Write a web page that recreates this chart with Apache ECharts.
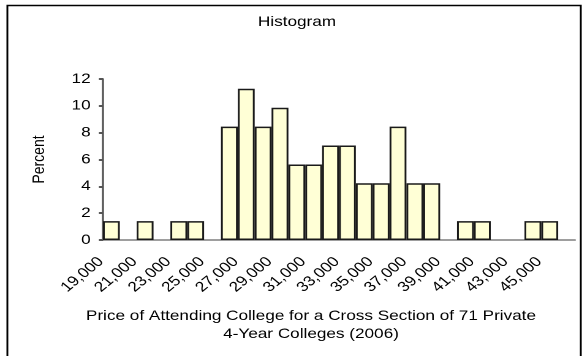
<!DOCTYPE html>
<html>
<head>
<meta charset="utf-8">
<script src="https://cdn.jsdelivr.net/npm/echarts@6/dist/echarts.min.js"></script>
<style>
  html, body { margin: 0; padding: 0; background: #fff; overflow: hidden; }
  /* The chart is laid out at a narrower width and widened horizontally,
     giving the broad, stretched lettering of the printed figure. */
  #chart { width: 475px; height: 356px; transform: scaleX(1.2253); transform-origin: 0 0; }
</style>
</head>
<body>
<div id="chart"></div>
<script>
// Lower edge of each $1,000 price bin (the last bin is empty)
var binStarts = [19000, 20000, 21000, 22000, 23000, 24000, 25000, 26000, 27000,
  28000, 29000, 30000, 31000, 32000, 33000, 34000, 35000, 36000, 37000, 38000,
  39000, 40000, 41000, 42000, 43000, 44000, 45000, 46000];

// Percent of the 71 colleges falling in each bin (null = no colleges)
var percents = [1.41, null, 1.41, null, 1.41, 1.41, null, 8.45, 11.27,
  8.45, 9.86, 5.63, 5.63, 7.04, 7.04, 4.23, 4.23, 8.45, 4.23, 4.23,
  null, 1.41, 1.41, null, null, 1.41, 1.41, null];

var yTicks = { min: 0, max: 12, step: 2 };

var chartTitle = 'Histogram';
var yTitle = 'Percent';
var xTitleLines = ['Price of Attending College for a Cross Section of 71 Private',
  '4-Year Colleges (2006)'];

var FONT = '"Liberation Sans", Arial, sans-serif';

function thousands(v) {
  return Number(v).toLocaleString('en-US');
}

var chart = echarts.init(document.getElementById('chart'), null,
  { renderer: 'canvas', devicePixelRatio: 2 });

chart.setOption({
  animation: false,
  backgroundColor: '#ffffff',
  textStyle: { fontFamily: FONT },
  grid: { left: 84, right: 5.7, top: 79, bottom: 116, containLabel: false },
  xAxis: {
    type: 'category',
    data: binStarts.map(String),
    boundaryGap: true,
    axisLine: { show: true, lineStyle: { color: '#7f7f7f', width: 1.5 } },
    axisTick: { show: false },
    axisLabel: {
      interval: 1,
      rotate: 45,
      margin: 11,
      padding: [0, 12, 0, 0],
      color: '#000',
      fontSize: 14,
      fontFamily: FONT,
      formatter: thousands
    },
    splitLine: { show: false }
  },
  yAxis: {
    type: 'value',
    min: yTicks.min,
    max: yTicks.max,
    interval: yTicks.step,
    name: yTitle,
    nameLocation: 'middle',
    nameRotate: 90,
    nameGap: 45,
    nameTextStyle: { color: '#000', fontSize: 14, fontFamily: FONT },
    axisLine: { show: true, lineStyle: { color: '#555', width: 1.7 } },
    axisTick: { show: true, inside: false, length: 3.3, lineStyle: { color: '#555', width: 2 } },
    axisLabel: { color: '#000', fontSize: 14, margin: 10, fontFamily: FONT },
    splitLine: { show: false }
  },
  series: [{
    type: 'bar',
    data: percents,
    barCategoryGap: '0%',
    itemStyle: { color: '#ffffd6', borderColor: '#1a1a1a', borderWidth: 1.5 }
  }],
  graphic: [
    {
      type: 'rect',
      shape: { x: 6, y: 5.5, width: 468, height: 400 },
      style: { fill: null, stroke: '#000', lineWidth: 1.5 },
      silent: true
    },
    {
      type: 'text',
      x: 242.4, y: 22,
      style: { text: chartTitle, font: '14px ' + FONT, fill: '#000',
        textAlign: 'center', textVerticalAlign: 'middle' }
    },
    {
      type: 'text',
      x: 253.8, y: 316,
      style: { text: xTitleLines[0], font: '14px ' + FONT, fill: '#000',
        textAlign: 'center', textVerticalAlign: 'middle' }
    },
    {
      type: 'text',
      x: 253.8, y: 334,
      style: { text: xTitleLines[1], font: '14px ' + FONT, fill: '#000',
        textAlign: 'center', textVerticalAlign: 'middle' }
    }
  ]
});
</script>
</body>
</html>
